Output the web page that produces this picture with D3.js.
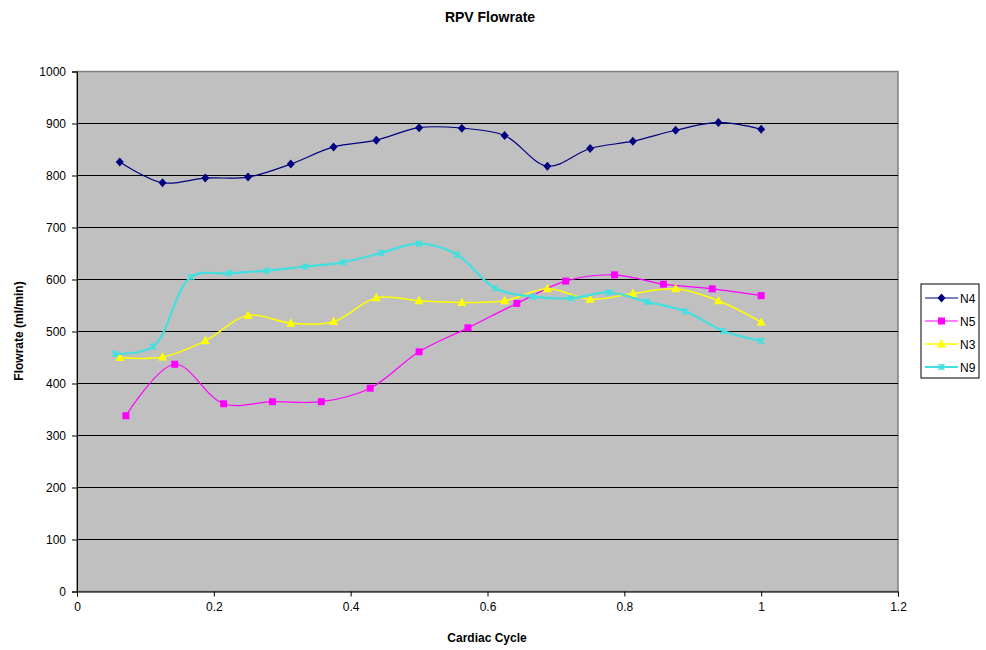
<!DOCTYPE html>
<html><head><meta charset="utf-8">
<script src="https://cdn.jsdelivr.net/npm/d3@7"></script>
<style>body{margin:0;background:#fff;} text{font-family:"Liberation Sans",Arial,sans-serif;}</style>
</head><body><svg id="c" width="986" height="650"></svg>
<script>
const xN4 = [0.0625,0.125,0.1875,0.25,0.3125,0.375,0.4375,0.5,0.5625,0.625,0.6875,0.75,0.8125,0.875,0.9375,1.0];
const yN4 = [826,786,795,797,822,855,868,892,891,877,818,852,866,887,902,889];
const xN5 = [1,2,3,4,5,6,7,8,9,10,11,12,13,14].map(d=>d/14);
const yN5 = [338,437,361,365,365,391,461,507,554,597,609,591,582,569];
const xN3 = xN4;
const yN3 = [450,451,482,531,516,519,565,559,556,559,582,562,573,582,559,518];
const xN9 = [1,2,3,4,5,6,7,8,9,10,11,12,13,14,15,16,17,18].map(d=>d/18);
const yN9 = [457,471,605,612,617,625,633,651,669,648,583,567,564,575,557,539,501,482];
const seriesNames = ["N4","N5","N3","N9"];
const xTicks = [0,0.2,0.4,0.6,0.8,1,1.2];
const yTicks = [0,100,200,300,400,500,600,700,800,900,1000];

const svg = d3.select("#c");
const L=77, R=898, T=71.5, B=591.5;
const x = d3.scaleLinear().domain([0,1.2]).range([L,R]);
const y = d3.scaleLinear().domain([0,1000]).range([B,T]);

svg.append("rect").attr("x",L).attr("y",T).attr("width",R-L).attr("height",B-T)
  .attr("fill","#c0c0c0").attr("stroke","#808080").attr("stroke-width",1.5);

svg.append("g").selectAll("line").data(yTicks.filter(d=>d>0&&d<1000)).join("line")
  .attr("x1",L).attr("x2",R).attr("y1",d=>y(d)).attr("y2",d=>y(d))
  .attr("stroke","#000").attr("stroke-width",1.2);

const yAxis = svg.append("g").attr("transform",`translate(${L},0)`)
  .call(d3.axisLeft(y).tickValues(yTicks).tickSize(5).tickPadding(6).tickFormat(d3.format("d")));
const xAxis = svg.append("g").attr("transform",`translate(0,${B})`)
  .call(d3.axisBottom(x).tickValues(xTicks).tickSize(5).tickPadding(6).tickFormat(d=>String(d)));
[yAxis,xAxis].forEach(a=>{
  a.selectAll("text").attr("font-size",12).attr("fill","#000").attr("font-family","Liberation Sans, Arial, sans-serif");
  a.selectAll("line").attr("stroke","#000");
  a.select(".domain").attr("stroke","#000");
});

const series = [
  {name:"N4", xs:xN4, ys:yN4, color:"#000080", w:1.2, marker:"diamond"},
  {name:"N5", xs:xN5, ys:yN5, color:"#ff00ff", w:1.2, marker:"square"},
  {name:"N3", xs:xN3, ys:yN3, color:"#ffff00", w:1.5, marker:"triangle"},
  {name:"N9", xs:xN9, ys:yN9, color:"#40e0e0", w:2.2, marker:"star"}
];
const line = d3.line().x(d=>x(d[0])).y(d=>y(d[1])).curve(d3.curveCatmullRom.alpha(0.5));

function drawMarker(g, type, color, cx, cy){
  if(type==="diamond"){
    g.append("path").attr("d",`M${cx},${cy-4.5}L${cx+4},${cy}L${cx},${cy+4.5}L${cx-4},${cy}Z`).attr("fill",color);
  } else if(type==="square"){
    g.append("rect").attr("x",cx-3.5).attr("y",cy-3.5).attr("width",7).attr("height",7).attr("fill",color);
  } else if(type==="triangle"){
    g.append("path").attr("d",`M${cx},${cy-5}L${cx+4.5},${cy+3.5}L${cx-4.5},${cy+3.5}Z`).attr("fill",color);
  } else {
    const s=3;
    g.append("path").attr("d",`M${cx-s},${cy-s}L${cx+s},${cy+s}M${cx-s},${cy+s}L${cx+s},${cy-s}M${cx},${cy-s}L${cx},${cy+s}`)
      .attr("stroke",color).attr("stroke-width",1.5).attr("fill","none");
  }
}

series.forEach(s=>{
  const pts = s.xs.map((xv,i)=>[xv,s.ys[i]]);
  svg.append("path").datum(pts).attr("d",line).attr("fill","none")
    .attr("stroke",s.color).attr("stroke-width",s.w);
  const g = svg.append("g");
  pts.forEach(p=>drawMarker(g,s.marker,s.color,x(p[0]),y(p[1])));
});

// Titles
svg.append("text").attr("x",490).attr("y",22).attr("text-anchor","middle")
  .attr("font-size",14).attr("font-weight","bold").text("RPV Flowrate");
svg.append("text").attr("x",487).attr("y",642).attr("text-anchor","middle")
  .attr("font-size",12).attr("font-weight","bold").text("Cardiac Cycle");
svg.append("text").attr("transform","translate(23,331) rotate(-90)").attr("text-anchor","middle")
  .attr("font-size",12).attr("font-weight","bold").text("Flowrate (ml/min)");

// Legend
const lg = svg.append("g");
lg.append("rect").attr("x",921).attr("y",284).attr("width",58).attr("height",94)
  .attr("fill","#fff").attr("stroke","#000").attr("stroke-width",1);
series.forEach((s,i)=>{
  const cy = 298 + i*23;
  lg.append("line").attr("x1",925).attr("x2",958).attr("y1",cy).attr("y2",cy)
    .attr("stroke",s.color).attr("stroke-width",s.w);
  drawMarker(lg,s.marker,s.color,941.5,cy);
  lg.append("text").attr("x",960).attr("y",cy+4.5).attr("font-size",12).text(s.name);
});
</script></body></html>
